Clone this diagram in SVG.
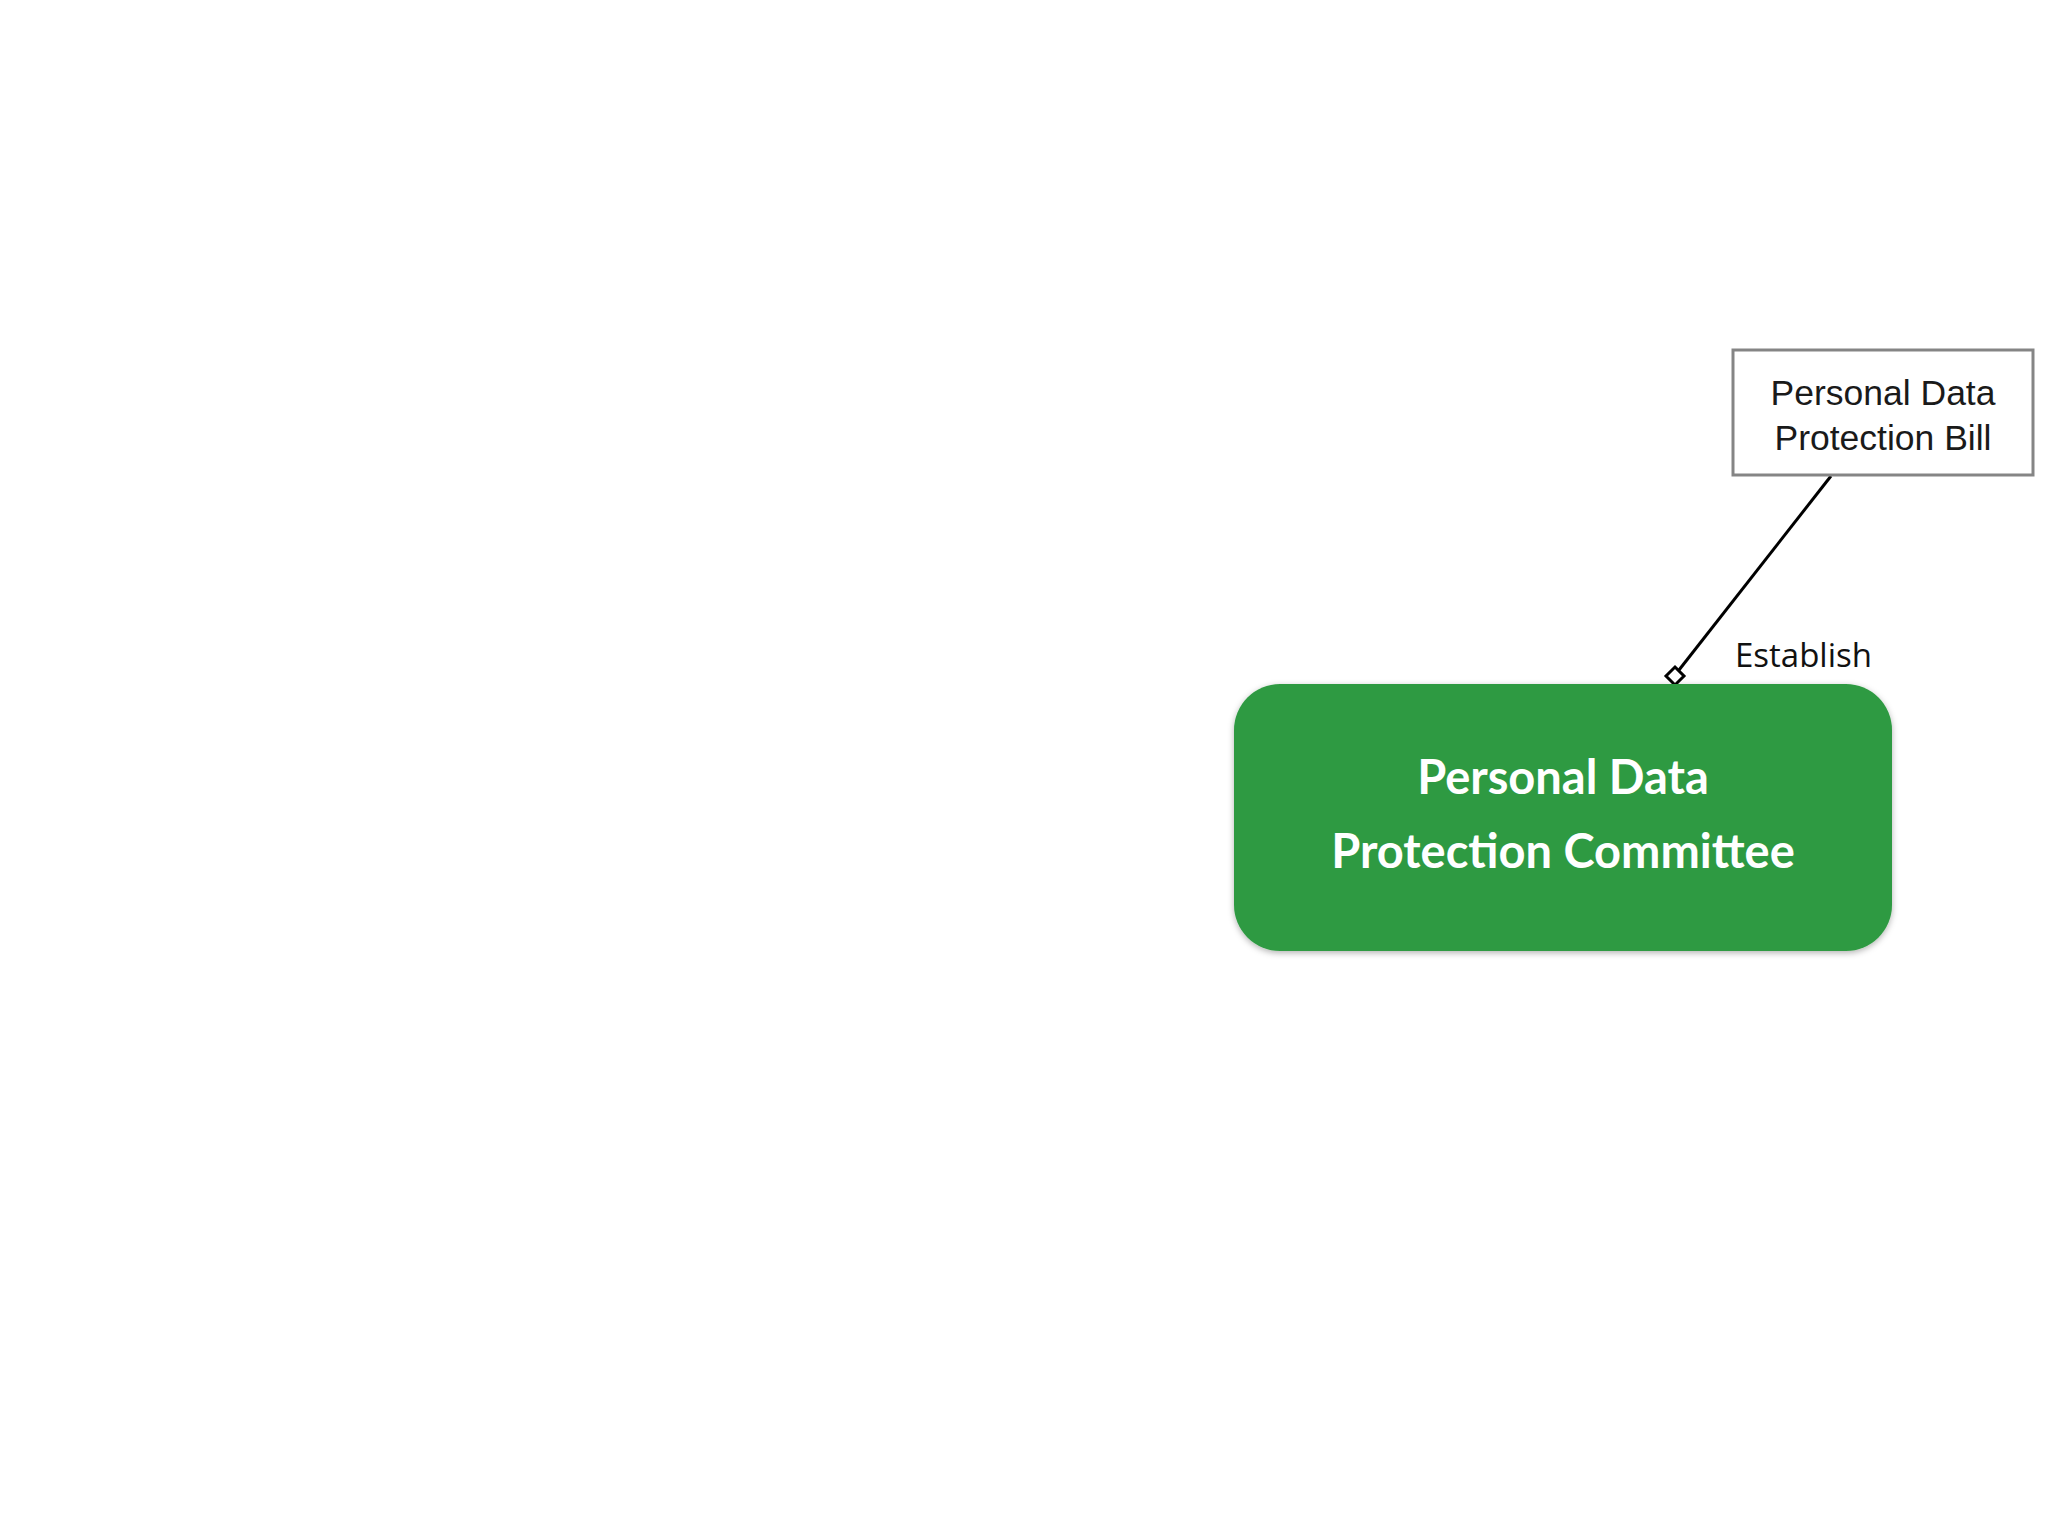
<svg xmlns="http://www.w3.org/2000/svg" width="2048" height="1536" viewBox="0 0 2048 1536">
<style>
.bill{fill:#ffffff;stroke:#858585;stroke-width:3}
.billtxt{font-family:"Liberation Sans",Arial,sans-serif;font-size:35.5px;fill:#1a1a1a;text-anchor:middle}
.green{fill:#2f9a43}
.greentxt{font-family:Lato,"Open Sans",sans-serif;font-weight:bold;font-size:47px;fill:#ffffff;text-anchor:middle}
.conn{stroke:#000;stroke-width:3;fill:none}
.dia{fill:#fff;stroke:#000;stroke-width:3;stroke-linejoin:miter}
.lbl{font-family:"Open Sans","Noto Sans",sans-serif;font-size:33px;fill:#111}
</style>
<defs>
<filter id="sh" x="-10%" y="-10%" width="120%" height="125%">
<feDropShadow dx="0" dy="2" stdDeviation="3" flood-color="#000" flood-opacity="0.3"/>
</filter>
</defs>
<rect width="2048" height="1536" fill="#ffffff"/>
<g id="connectors">
<line class="conn" x1="1831" y1="476" x2="1679" y2="670"/>
<polygon class="dia" points="1675,667 1684,676 1675,685 1666,676"/>
<text class="lbl" x="1735" y="667">Establish</text>
</g>
<g id="node-bill">
<rect class="bill" x="1733" y="350" width="300" height="125"/>
<text class="billtxt" x="1883" y="405">Personal Data</text>
<text class="billtxt" x="1883" y="450">Protection Bill</text>
</g>
<g id="node-committee">
<rect class="green" x="1234" y="684" width="658" height="267" rx="46" ry="46" filter="url(#sh)"/>
<text class="greentxt" x="1563" y="794">Personal Data</text>
<text class="greentxt" x="1563" y="868">Protection Committee</text>
</g>
</svg>
